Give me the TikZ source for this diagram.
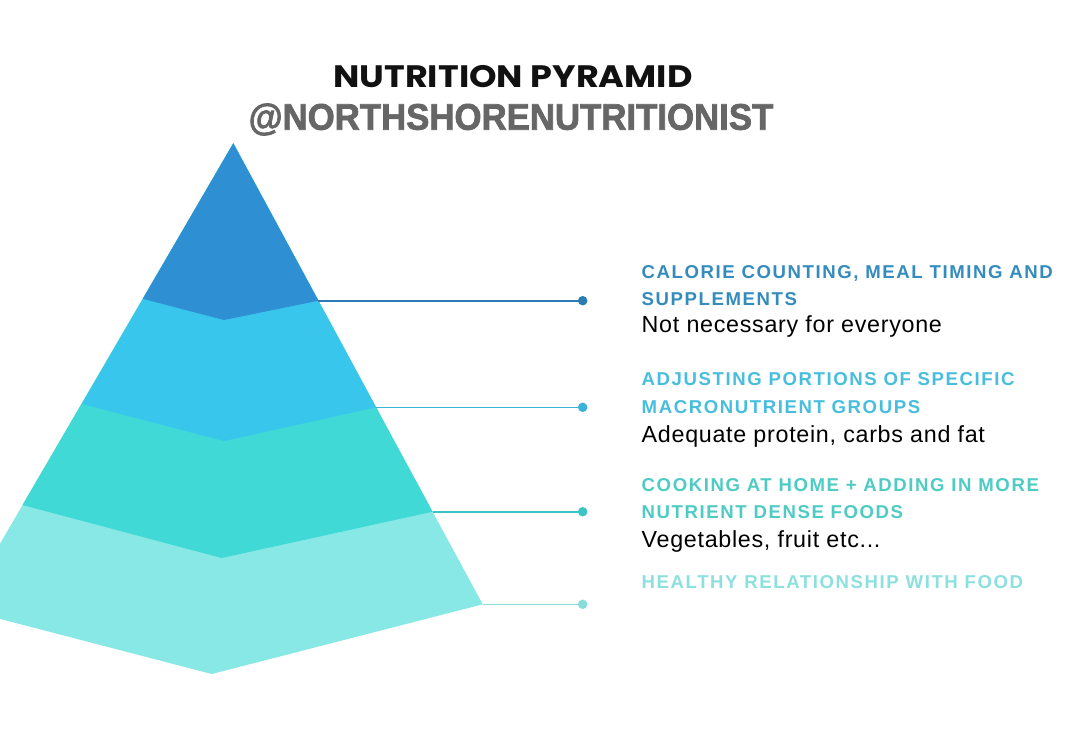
\documentclass[tikz,border=0pt]{standalone}
\usepackage{fontspec}
\setmainfont{Liberation Sans}
\newfontfamily\titlefont{Poppins}
\newfontfamily\handlefont{Liberation Sans}[BoldFeatures={FakeBold=2}]
\newfontfamily\hdrfont{Liberation Sans}[LetterSpace=8.5]
\newfontfamily\subfont{Liberation Sans}[LetterSpace=3]
\definecolor{layA}{HTML}{2E8FD3}
\definecolor{layB}{HTML}{39C6EC}
\definecolor{layC}{HTML}{40D9D5}
\definecolor{layD}{HTML}{88E8E6}
\definecolor{lnA}{HTML}{2B7CB3}
\definecolor{lnB}{HTML}{3BB2D8}
\definecolor{lnC}{HTML}{3CC4C4}
\definecolor{lnD}{HTML}{8ADCDC}
\definecolor{hdA}{HTML}{348CBE}
\definecolor{hdB}{HTML}{48BEDE}
\definecolor{hdC}{HTML}{4ECCC4}
\definecolor{hdD}{HTML}{8CE0DE}
\definecolor{handlegray}{HTML}{666666}
\definecolor{titleblack}{HTML}{111111}
\begin{document}
\begin{tikzpicture}[x=1pt,y=-1pt,
  hdr/.style={inner sep=0pt,anchor=base west,font=\hdrfont\bfseries\fontsize{18.6}{22}\selectfont},
  sub/.style={inner sep=0pt,anchor=base west,text=black,font=\subfont\fontsize{23.3}{27}\selectfont},
  dot/.style={circle,inner sep=0pt,minimum size=9.5pt},
  conn/.style={line width=1.6pt}]
\fill[white] (0,0) rectangle (1080,737);
\useasboundingbox (0,0) rectangle (1080,737);
% pyramid corner points
\coordinate (A) at (233.3,143.3);
\coordinate (L1) at (142.8,298.8);
\coordinate (V1) at (224,320);
\coordinate (R1) at (318.4,300.7);
\coordinate (L2) at (82,404);
\coordinate (V2) at (224,441);
\coordinate (R2) at (376,407.3);
\coordinate (L3) at (22.5,505);
\coordinate (V3) at (221.7,558);
\coordinate (R3) at (432.6,511.7);
\coordinate (L4) at (-38,609);
\coordinate (V4) at (211.7,674);
\coordinate (R4) at (482.7,604.3);
\begin{scope}
\clip (0,0) rectangle (1080,737);
\fill[layD] (A) -- (R4) -- (V4) -- (L4) -- cycle;
\fill[layC] (A) -- (R3) -- (V3) -- (L3) -- cycle;
\fill[layB] (A) -- (R2) -- (V2) -- (L2) -- cycle;
\fill[layA] (A) -- (R1) -- (V1) -- (L1) -- cycle;
\end{scope}
% connectors
\node[dot,fill=lnA] (d1) at (582.7,300.7) {};
\node[dot,fill=lnB] (d2) at (582.7,407.3) {};
\node[dot,fill=lnC] (d3) at (582.7,511.7) {};
\node[dot,fill=lnD] (d4) at (582.7,604.3) {};
\draw[conn,lnA] (R1) -- (d1.center);
\draw[conn,lnB] (R2) -- (d2.center);
\draw[conn,lnC] (R3) -- (d3.center);
\draw[conn,lnD] (R4) -- (d4.center);
% title
\node[inner sep=0pt,anchor=base,text=titleblack,font=\titlefont\bfseries\fontsize{31}{34}\selectfont] (t1) at (513,87.7) {\scalebox{1.13}[1]{NUTRITION PYRAMID}};
\node[inner sep=0pt,anchor=base,text=handlegray,font=\handlefont\bfseries\fontsize{37}{40}\selectfont] (t2) at (511,129.7) {\scalebox{0.94}[1]{@NORTHSHORENUTRITIONIST}};
% labels
\node[hdr,text=hdA] (h1a) at (641.5,278.3) {CALORIE COUNTING, MEAL TIMING AND};
\node[hdr,text=hdA] (h1b) at (641.5,305) {SUPPLEMENTS};
\node[sub] (s1) at (641.5,332.3) {Not necessary for everyone};
\node[hdr,text=hdB] (h2a) at (641.5,385) {ADJUSTING PORTIONS OF SPECIFIC};
\node[hdr,text=hdB] (h2b) at (641.5,413.3) {MACRONUTRIENT GROUPS};
\node[sub] (s2) at (641.5,442.7) {Adequate protein, carbs and fat};
\node[hdr,text=hdC] (h3a) at (641.5,491) {COOKING AT HOME + ADDING IN MORE};
\node[hdr,text=hdC] (h3b) at (641.5,518.3) {NUTRIENT DENSE FOODS};
\node[sub] (s3) at (641.5,547.7) {Vegetables, fruit etc...};
\node[hdr,text=hdD] (h4a) at (641.5,588.3) {HEALTHY RELATIONSHIP WITH FOOD};
\end{tikzpicture}
\end{document}
